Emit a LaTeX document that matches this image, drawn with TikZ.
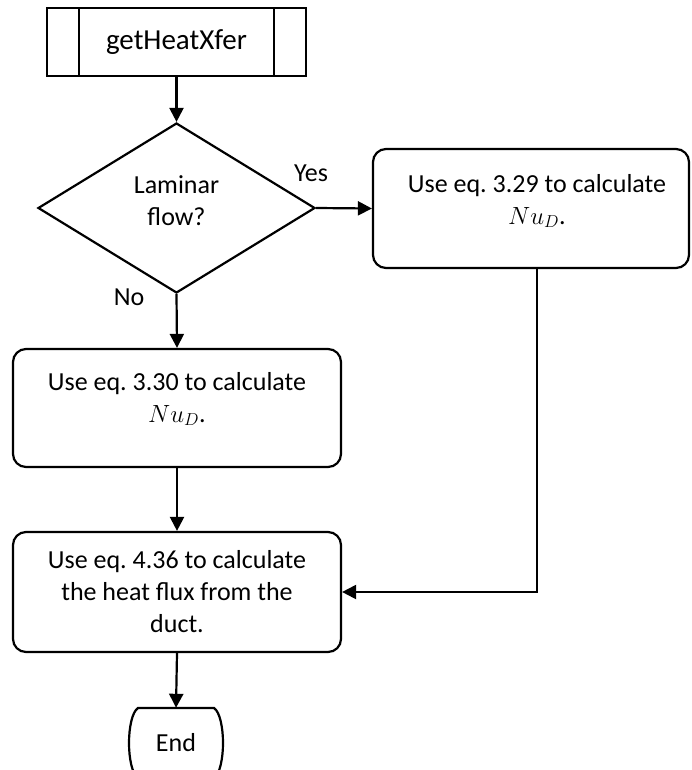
\documentclass[tikz,border=0pt]{standalone}
\usepackage{fontspec}
\setmainfont{Carlito}
\frenchspacing
\usetikzlibrary{arrows.meta,shapes.geometric}

\tikzset{
  flow/.style={line width=2.2pt, draw=black},
  arr/.style={flow, -{Triangle[width=14pt,length=14pt]}},
  procbox/.style={flow, rectangle, rounded corners=13pt, inner sep=0pt},
  txt/.style={align=center, inner sep=0pt, font=\fontsize{26}{32}\selectfont},
  lbl/.style={inner sep=0pt, font=\fontsize{26}{32}\selectfont},
}

\begin{document}
\begin{tikzpicture}[x=1pt, y=-1pt]
  \useasboundingbox (0,0) rectangle (691,770);
  \clip (0,0) rectangle (691,770);

  % predefined process: getHeatXfer
  \node[flow, rectangle, minimum width=259pt, minimum height=68pt, inner sep=0pt] (start) at (176.5,42) {};
  \draw[flow] (79,8) -- (79,76);
  \draw[flow] (274,8) -- (274,76);
  \node[lbl, font=\fontsize{29}{35}\selectfont] (starttxt) at (176.5,42) {getHeatXfer};

  % decision
  \node[flow, diamond, minimum width=277pt, minimum height=170pt, inner sep=0pt] (dec) at (176.5,208) {};
  \node[txt] (dectxt) at (176.5,201) {Laminar\\flow?};

  % laminar branch
  \node[procbox, minimum width=316pt, minimum height=119pt] (lam) at (531,208.5) {};
  \node[txt] (lamtxt) at (537,201) {Use eq. 3.29 to calculate\\$Nu_D$.};

  % turbulent branch
  \node[procbox, minimum width=328pt, minimum height=118pt] (turb) at (177,408) {};
  \node[txt] (turbtxt) at (177,399) {Use eq. 3.30 to calculate\\$Nu_D$.};

  % heat flux
  \node[procbox, minimum width=328pt, minimum height=120pt] (flux) at (177,592) {};
  \node[txt] (fluxtxt) at (177,592) {Use eq. 4.36 to calculate\\the heat flux from the\\duct.};

  % terminator
  \node[minimum width=94pt, minimum height=70pt, inner sep=0pt] (end) at (176,743) {};
  \draw[flow] (138,708) -- (214,708)
      .. controls (220,712) and (223,728) .. (223,743)
      .. controls (223,758) and (220,774) .. (214,778)
      -- (138,778)
      .. controls (132,774) and (129,758) .. (129,743)
      .. controls (129,728) and (132,712) .. (138,708) -- cycle;
  \node[lbl] (endtxt) at (176,743) {End};

  % connectors
  \coordinate (bend) at (537,592);
  \draw[arr] (start.south) -- (dec.north);
  \draw[arr] (dec.east) -- (lam.west);
  \draw[arr] (dec.south) -- (turb.north);
  \draw[arr] (turb.south) -- (flux.north);
  \draw[arr] (lam.south -| bend) -- (bend) -- (flux.east);
  \draw[arr] (flux.south) -- (end.north);

  % branch labels
  \node[lbl] (yes) at (311,173) {Yes};
  \node[lbl] (no) at (129,297) {No};
\end{tikzpicture}
\end{document}
